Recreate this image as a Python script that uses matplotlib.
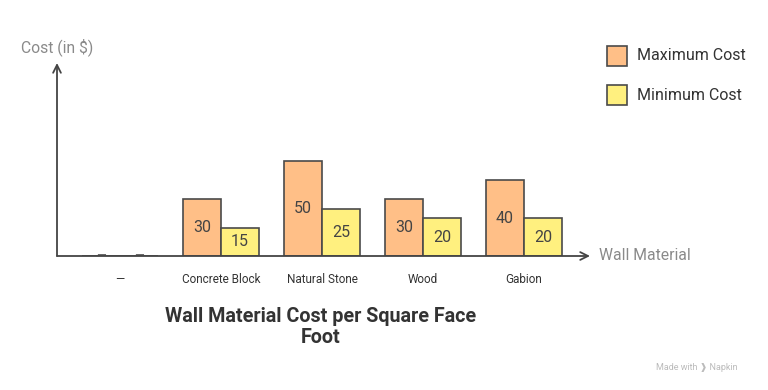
import matplotlib
matplotlib.use('Agg')
import matplotlib.pyplot as plt
import numpy as np

plt.rcParams['font.family'] = ['Roboto', 'DejaVu Sans']

categories = ['\u2014', 'Concrete Block', 'Natural Stone', 'Wood', 'Gabion']
max_cost = [0, 30, 50, 30, 40]
min_cost = [0, 15, 25, 20, 20]

max_color = '#FFBF87'
min_color = '#FFF07F'
edge = '#4a4a4a'

fig = plt.figure(figsize=(7.68, 3.9), dpi=100)
ax = fig.add_axes([57 / 768, (390 - 256) / 390, 533 / 768, 193 / 390])
ax.set_xlim(-0.624, 4.653)
ax.set_ylim(0, 101.6)
ax.axis('off')

x = np.arange(len(categories))
w = 0.376
ax.bar(x - w / 2, max_cost, w, color=max_color, edgecolor=edge, linewidth=1.2, zorder=2)
ax.bar(x + w / 2, min_cost, w, color=min_color, edgecolor=edge, linewidth=1.2, zorder=2)

# value labels at mid height
for xs, vals in ((x - w / 2, max_cost), (x + w / 2, min_cost)):
    for xi, v in zip(xs, vals):
        if v == 0:
            ax.text(xi, 0, '\u2014', ha='center', va='center', fontsize=9, color='#666666', zorder=1)
        else:
            ax.text(xi, v / 2, str(v), ha='center', va='center', fontsize=11.5, color='#444444', zorder=3)

# category labels
for xi, lab in zip(x, categories):
    ax.text(xi, -12.6, lab, ha='center', va='center', fontsize=8.5, color='#333333')

# axes arrows
ax.annotate('', xy=(0, 1.0), xytext=(0, 0), xycoords='axes fraction',
            arrowprops=dict(arrowstyle='->', color='#444444', lw=1.3, shrinkA=0, shrinkB=0,
                            mutation_scale=14))
ax.annotate('', xy=(1.0, 0), xytext=(0, 0), xycoords='axes fraction',
            arrowprops=dict(arrowstyle='->', color='#444444', lw=1.3, shrinkA=0, shrinkB=0,
                            mutation_scale=14))

fig.text(599 / 768, 1 - 256 / 390, 'Wall Material', ha='left', va='center', fontsize=11.3, color='#8a8a8a')
fig.text(21 / 768, 1 - 47 / 390, 'Cost (in $)', ha='left', va='center', fontsize=11.3, color='#8a8a8a')

fig.text(321 / 768, 1 - 327 / 390, 'Wall Material Cost per Square Face\nFoot', ha='center', va='center',
         fontsize=14.2, fontweight='bold', color='#333333', linespacing=1.15)

# legend
for yy, col, lab in ((56, max_color, 'Maximum Cost'), (95, min_color, 'Minimum Cost')):
    fig.patches.append(plt.Rectangle((607 / 768, 1 - (yy + 10) / 390), 20 / 768, 20 / 390,
                                     transform=fig.transFigure, facecolor=col, edgecolor=edge, linewidth=1.2))
    fig.text(637 / 768, 1 - yy / 390, lab, ha='left', va='center', fontsize=11.5, color='#333333')

fig.text(697 / 768, 1 - 367 / 390, 'Made with \u2771 Napkin', ha='center', va='center', fontsize=6.5, color='#bbbbbb')

fig.savefig('out.png', dpi=100)
